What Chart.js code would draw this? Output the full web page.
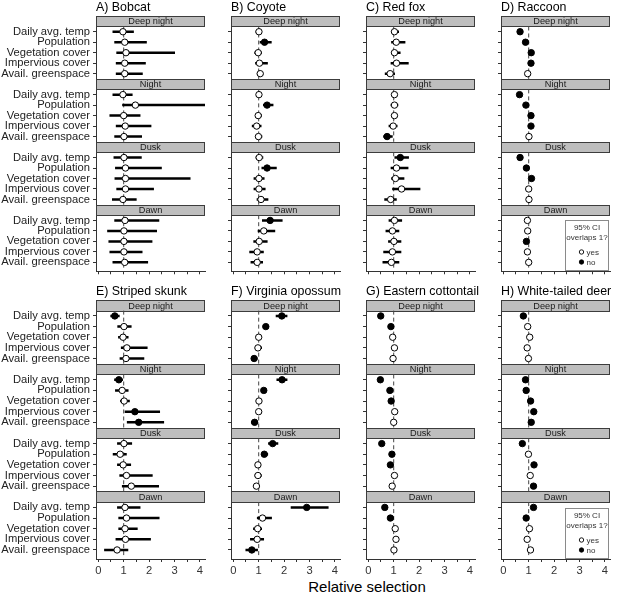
<!DOCTYPE html>
<html>
<head>
<meta charset="utf-8">
<script src="https://cdn.jsdelivr.net/npm/chart.js@4.4.1/dist/chart.umd.min.js"></script>
<style>
html,body{margin:0;padding:0;background:#fff;}
body{width:617px;height:595px;position:relative;overflow:hidden;font-family:"Liberation Sans",Arial,sans-serif;}
canvas{position:absolute;}
#xlab{position:absolute;left:367px;top:579px;transform:translateX(-50%);font-size:15px;line-height:15px;white-space:nowrap;color:#000;}
</style>
</head>
<body>
<div id="xlab">Relative selection</div>
<script>
const FONT='"Liberation Sans", Arial, sans-serif';
Chart.defaults.font.family=FONT;

// ---- data ----
const periods=['Deep night','Night','Dusk','Dawn'];
const covariates=['Daily avg. temp','Population','Vegetation cover','Impervious cover','Avail. greenspace'];
const xTickValues=[0,0.5,1,1.5,2,2.5,3,3.5,4];
const xTickLabels=['0','','1','','2','','3','','4'];
const refValue=1;
const titles=['A) Bobcat','B) Coyote','C) Red fox','D) Raccoon','E) Striped skunk','F) Virginia opossum','G) Eastern cottontail','H) White-tailed deer'];
const legendTitle=['95% CI','overlaps 1?'];
const legendLabels=['yes','no'];

// 20 values each: periods (Deep night, Night, Dusk, Dawn) x covariates
const bobcatEst=[0.97,1.04,1.09,1.04,1.04, 0.97,1.46,1.00,1.06,1.01, 1.01,1.07,1.07,1.07,0.97, 1.05,1.01,1.01,1.01,1.04];
const bobcatLo =[0.56,0.63,0.71,0.69,0.69, 0.56,0.94,0.44,0.69,0.63, 0.60,0.66,0.64,0.71,0.54, 0.63,0.35,0.40,0.44,0.56];
const bobcatHi =[1.40,1.91,3.02,1.87,1.75, 1.35,4.60,1.66,2.09,1.72, 1.71,2.50,3.63,2.19,1.51, 2.40,2.31,2.13,1.74,1.96];

const coyoteEst=[1.01,1.23,0.98,1.03,1.06, 1.01,1.33,0.98,0.92,0.99, 1.02,1.33,1.01,1.01,1.09, 1.45,1.20,1.02,0.94,0.94];
const coyoteLo =[0.88,1.04,0.83,0.86,0.93, 0.93,1.17,0.86,0.73,0.86, 0.88,1.11,0.80,0.80,0.92, 1.13,0.96,0.79,0.63,0.68];
const coyoteHi =[1.13,1.51,1.13,1.36,1.18, 1.11,1.58,1.13,1.11,1.14, 1.18,1.71,1.23,1.27,1.38, 1.94,1.65,1.35,1.20,1.17];

const foxEst=[1.03,1.10,1.03,1.11,0.86, 1.03,1.03,1.03,0.98,0.74, 1.26,1.11,1.07,1.31,0.88, 1.03,0.95,1.01,0.95,0.91];
const foxLo =[0.90,0.90,0.90,0.88,0.65, 0.93,0.88,0.90,0.80,0.59, 1.03,0.88,0.90,0.94,0.63, 0.80,0.68,0.78,0.59,0.56];
const foxHi =[1.21,1.46,1.27,1.59,1.05, 1.13,1.18,1.15,1.15,0.96, 1.60,1.58,1.42,2.05,1.12, 1.33,1.22,1.30,1.30,1.22];

const raccoonEst=[0.66,0.875,1.10,1.09,0.96, 0.64,0.89,1.09,1.09,1.01, 0.66,0.91,1.11,1.00,1.01, 0.95,0.96,0.91,0.95,1.00];
const raccoonLo =[0.61,0.83,1.05,1.04,0.88, 0.59,0.84,1.04,1.04,0.93, 0.61,0.86,1.06,0.92,0.93, 0.87,0.88,0.86,0.87,0.92];
const raccoonHi =[0.71,0.92,1.15,1.14,1.04, 0.69,0.94,1.14,1.14,1.09, 0.71,0.96,1.16,1.08,1.09, 1.03,1.04,0.96,1.03,1.08];

const skunkEst=[0.65,1.01,0.975,1.125,1.09, 0.81,0.94,1.02,1.44,1.59, 1.01,0.86,0.98,1.11,1.30, 1.05,1.11,1.05,1.07,0.74];
const skunkLo =[0.475,0.75,0.78,0.89,0.84, 0.625,0.66,0.86,1.04,1.125, 0.74,0.57,0.74,0.83,0.93, 0.74,0.79,0.79,0.68,0.23];
const skunkHi =[0.84,1.31,1.19,1.94,1.81, 0.97,1.19,1.24,2.43,2.59, 1.33,1.12,1.29,2.14,2.39, 1.66,2.41,1.55,2.07,1.18];

const opossumEst=[1.91,1.28,1.00,0.97,0.82, 1.92,1.20,1.01,1.00,0.84, 1.55,1.22,0.97,0.97,0.91, 2.89,1.15,0.96,0.94,0.73];
const opossumLo =[1.67,1.16,0.92,0.85,0.70, 1.70,1.10,0.92,0.91,0.70, 1.37,1.10,0.86,0.84,0.80, 2.26,0.93,0.78,0.66,0.48];
const opossumHi =[2.13,1.40,1.10,1.13,0.95, 2.13,1.31,1.10,1.11,0.97, 1.77,1.37,1.09,1.12,1.04, 3.75,1.52,1.13,1.21,0.97];

const cottontailEst=[0.49,0.89,0.96,1.03,0.975, 0.475,0.85,0.90,1.04,1.00, 0.53,0.93,0.87,1.03,0.94, 0.65,0.87,1.06,1.09,1.01];
const cottontailLo =[0.45,0.85,0.88,0.95,0.90, 0.435,0.81,0.86,0.96,0.93, 0.49,0.89,0.83,0.95,0.87, 0.61,0.83,0.98,0.98,0.94];
const cottontailHi =[0.53,0.93,1.04,1.11,1.05, 0.515,0.89,0.94,1.12,1.07, 0.57,0.97,0.91,1.11,1.02, 0.69,0.91,1.14,1.20,1.08];

const deerEst=[0.79,0.96,1.04,0.94,0.99, 0.875,0.90,1.075,1.20,1.10, 0.75,0.99,1.21,1.06,1.19, 1.19,0.90,1.03,0.94,1.07];
const deerLo =[0.75,0.89,0.96,0.87,0.92, 0.835,0.86,1.035,1.15,1.06, 0.71,0.92,1.16,0.98,1.14, 1.14,0.86,0.95,0.87,0.99];
const deerHi =[0.83,1.03,1.12,1.02,1.07, 0.915,0.94,1.115,1.25,1.14, 0.79,1.06,1.26,1.14,1.24, 1.24,0.94,1.11,1.02,1.15];

const panels=[
  {est:bobcatEst,lo:bobcatLo,hi:bobcatHi},
  {est:coyoteEst,lo:coyoteLo,hi:coyoteHi},
  {est:foxEst,lo:foxLo,hi:foxHi},
  {est:raccoonEst,lo:raccoonLo,hi:raccoonHi},
  {est:skunkEst,lo:skunkLo,hi:skunkHi},
  {est:opossumEst,lo:opossumLo,hi:opossumHi},
  {est:cottontailEst,lo:cottontailLo,hi:cottontailHi},
  {est:deerEst,lo:deerLo,hi:deerHi}
];

// ---- layout ----
const COL_LEFT=[96,231,366,501], ROW_TOP=[16,300];
const PLOT_W=114, PLOT_H=259, TOP_PAD=18, Y_MAX=24.35;
const X_MIN=-0.09, X_MAX=4.2;
const NC=covariates.length, PER=NC+1; // each period: strip (1 unit) + 5 rows
const rowPos=k=>PER*Math.floor(k/NC)+1.5+(k%NC);
const rowTicks=[]; periods.forEach((p,g)=>covariates.forEach((c,r)=>rowTicks.push(rowPos(g*NC+r))));

const facetPlugin={
  id:'facet',
  beforeDatasetsDraw(chart,args,opts){
    const {ctx,chartArea:a,scales:{y}}=chart;
    ctx.save();
    periods.forEach((p,g)=>{
      const t=Math.round(y.getPixelForValue(PER*g)), b=Math.round(y.getPixelForValue(PER*g+1));
      ctx.fillStyle='#bebebe';ctx.fillRect(a.left,t,a.right-a.left,b-t);
      ctx.strokeStyle='#3c3c3c';ctx.lineWidth=1;ctx.strokeRect(a.left+0.5,t+0.5,a.right-a.left-1,b-t);
      ctx.fillStyle='#1a1a1a';ctx.font='9.2px '+FONT;ctx.textAlign='center';ctx.textBaseline='middle';
      ctx.fillText(p,(a.left+a.right)/2,(t+b)/2+0.5);
    });
    ctx.fillStyle='#000';ctx.font='12.4px '+FONT;ctx.textAlign='left';ctx.textBaseline='alphabetic';
    ctx.fillText(opts.title,a.left,a.top-5.5);
    ctx.restore();
  },
  afterDatasetsDraw(chart,args,opts){
    if(!opts.legend)return;
    const {ctx,chartArea:a}=chart;
    const x0=a.left+64, x1=a.right-1, y0=Math.round(a.bottom-51), y1=Math.round(a.bottom);
    ctx.save();
    ctx.fillStyle='#fff';ctx.fillRect(x0,y0,x1-x0,y1-y0);
    ctx.strokeStyle='#8a8a8a';ctx.lineWidth=1;ctx.strokeRect(x0+0.5,y0+0.5,x1-x0-1,y1-y0-1);
    ctx.fillStyle='#333';ctx.font='8px '+FONT;ctx.textAlign='center';ctx.textBaseline='middle';
    ctx.fillText(legendTitle[0],(x0+x1)/2,y0+7.5);
    ctx.fillText(legendTitle[1],(x0+x1)/2,y0+17.5);
    legendLabels.forEach((lab,j)=>{
      const cy=y0+32+j*10, cx=a.left+80.5;
      ctx.beginPath();ctx.arc(cx,cy,2.2,0,Math.PI*2);
      ctx.fillStyle=j===0?'#fff':'#000';ctx.fill();
      ctx.strokeStyle='#000';ctx.lineWidth=0.9;ctx.stroke();
      ctx.fillStyle='#333';ctx.textAlign='left';ctx.fillText(lab,a.left+85.5,cy+0.5);
    });
    ctx.restore();
  }
};

titles.forEach((title,i)=>{
  const col=i%4,row=Math.floor(i/4),d=panels[i];
  const axisW=col===0?96:8, bottomH=row===1?24:6;
  const cv=document.createElement('canvas');
  cv.width=axisW+PLOT_W;cv.height=TOP_PAD+PLOT_H+bottomH;
  cv.style.left=(COL_LEFT[col]-axisW)+'px';cv.style.top=(ROW_TOP[row]-TOP_PAD)+'px';
  document.body.appendChild(cv);

  const overlaps=k=>d.lo[k]<=refValue&&d.hi[k]>=refValue;
  const ciData=[];
  d.est.forEach((v,k)=>{const yy=rowPos(k);ciData.push({x:d.lo[k],y:yy},{x:d.hi[k],y:yy},{x:d.hi[k],y:null});});
  const refData=[];
  periods.forEach((p,g)=>{refData.push({x:refValue,y:PER*g+1},{x:refValue,y:PER*g+PER},{x:refValue,y:null});});

  new Chart(cv,{
    type:'scatter',
    data:{datasets:[
      {type:'scatter',data:d.est.map((v,k)=>({x:v,y:rowPos(k)})),pointRadius:3.2,pointBorderWidth:1,
        pointBackgroundColor:d.est.map((v,k)=>overlaps(k)?'#fff':'#000'),pointBorderColor:'#000',order:0},
      {type:'line',data:ciData,borderColor:'#000',borderWidth:2.5,pointRadius:0,spanGaps:false,order:1},
      {type:'line',data:refData,borderColor:'#444',borderWidth:1,borderDash:[4,3],pointRadius:0,spanGaps:false,order:2}
    ]},
    options:{
      responsive:false,animation:false,devicePixelRatio:1,
      layout:{padding:{top:TOP_PAD,left:0,right:0,bottom:0}},
      plugins:{legend:{display:false},tooltip:{enabled:false},facet:{title:title,legend:col===3}},
      scales:{
        x:{type:'linear',min:X_MIN,max:X_MAX,
          afterBuildTicks:s=>{s.ticks=xTickValues.map(v=>({value:v}));},
          afterFit:s=>{s.height=bottomH;},
          ticks:{callback:(v,idx)=>row===1?xTickLabels[idx]:'',autoSkip:false,maxRotation:0,padding:2,color:'#333',font:{size:11.2}},
          grid:{drawOnChartArea:false,drawTicks:true,tickLength:3,color:'#333'},
          border:{color:'#333',width:1}},
        y:{type:'linear',min:0,max:Y_MAX,reverse:true,
          afterBuildTicks:s=>{s.ticks=rowTicks.map(v=>({value:v}));},
          afterFit:s=>{s.width=axisW;},
          ticks:{callback:(v,idx)=>col===0?covariates[idx%NC]:'',autoSkip:false,padding:3,color:'#222',font:{size:11.2}},
          grid:{drawOnChartArea:false,drawTicks:true,tickLength:3,color:'#333'},
          border:{color:'#333',width:1}}
      }
    },
    plugins:[facetPlugin]
  });
});
</script>
</body>
</html>
